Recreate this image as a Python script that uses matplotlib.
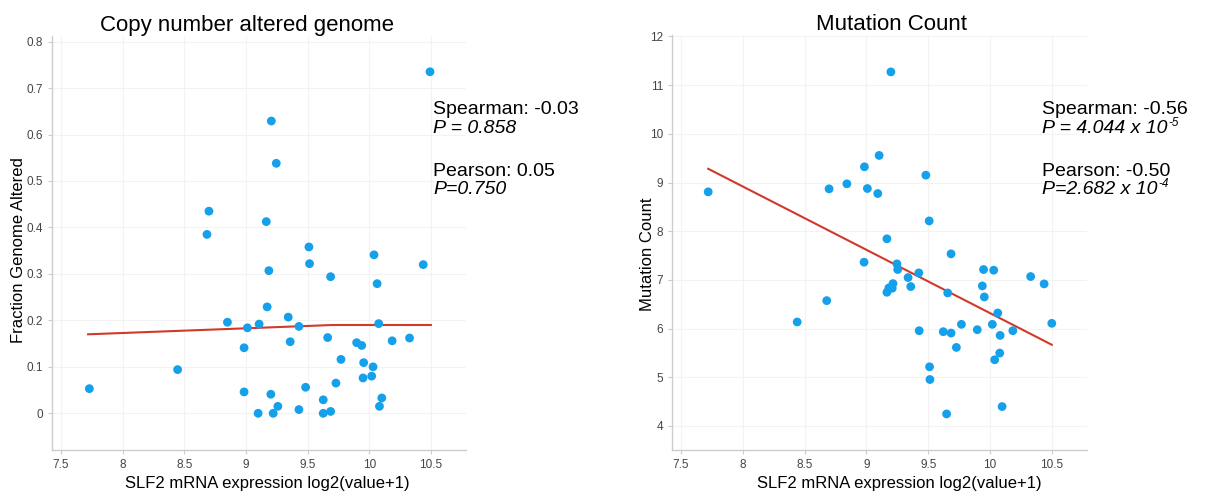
import matplotlib
matplotlib.use("Agg")
import matplotlib.pyplot as plt

# ---------------- data ----------------
cna_x = [7.730, 8.446, 8.684, 8.700, 8.850, 8.985, 9.012, 8.985, 9.107, 9.099,
         9.165, 9.172, 9.186, 9.202, 9.206, 9.221, 9.246, 9.259, 9.343, 9.359,
         9.430, 9.430, 9.484, 9.511, 9.516, 9.627, 9.687, 9.627, 9.663, 9.687,
         9.730, 9.771, 9.898, 9.939, 9.955, 9.950, 10.031, 10.020, 10.039, 10.064,
         10.077, 10.083, 10.102, 10.186, 10.327, 10.438, 10.493]
cna_y = [0.053, 0.094, 0.385, 0.435, 0.196, 0.141, 0.184, 0.046, 0.192, 0.000,
         0.4125, 0.229, 0.307, 0.041, 0.629, 0.000, 0.538, 0.015, 0.207, 0.154,
         0.187, 0.008, 0.056, 0.358, 0.322, 0.000, 0.004, 0.029, 0.163, 0.294,
         0.065, 0.116, 0.152, 0.146, 0.109, 0.076, 0.100, 0.080, 0.341, 0.279,
         0.193, 0.015, 0.033, 0.156, 0.162, 0.320, 0.735]
cna_fit_x = [7.72, 9.70, 10.50]
cna_fit_y = [0.170, 0.190, 0.190]

mut_x = [7.720, 8.440, 8.679, 8.698, 8.842, 8.981, 8.984, 9.008, 9.092, 9.103,
         9.166, 9.166, 9.182, 9.198, 9.209, 9.215, 9.247, 9.253, 9.337, 9.359,
         9.424, 9.427, 9.481, 9.508, 9.511, 9.514, 9.622, 9.649, 9.658, 9.685,
         9.685, 9.728, 9.769, 9.897, 9.938, 9.948, 9.954, 10.019, 10.030, 10.038,
         10.063, 10.079, 10.082, 10.098, 10.185, 10.329, 10.438, 10.500]
mut_y = [8.808, 6.135, 6.574, 8.870, 8.973, 7.364, 9.323, 8.877, 8.774, 9.556,
         7.844, 6.746, 6.835, 11.272, 6.828, 6.924, 7.329, 7.213, 7.048, 6.863,
         7.144, 5.956, 9.151, 8.211, 5.215, 4.954, 5.936, 4.247, 6.732, 7.535,
         5.908, 5.613, 6.087, 5.977, 6.876, 7.213, 6.650, 6.087, 7.199, 5.359,
         6.320, 5.497, 5.860, 4.398, 5.956, 7.069, 6.918, 6.108]
mut_fit_x = [7.72, 10.50]
mut_fit_y = [9.282, 5.668]

x_ticks = [7.5, 8, 8.5, 9, 9.5, 10, 10.5]
x_tick_labels = ["7.5", "8", "8.5", "9", "9.5", "10", "10.5"]
cna_y_ticks = [0, 0.1, 0.2, 0.3, 0.4, 0.5, 0.6, 0.7, 0.8]
cna_y_labels = ["0", "0.1", "0.2", "0.3", "0.4", "0.5", "0.6", "0.7", "0.8"]
mut_y_ticks = [4, 5, 6, 7, 8, 9, 10, 11, 12]
mut_y_labels = ["4", "5", "6", "7", "8", "9", "10", "11", "12"]

titles = ["Copy number altered genome", "Mutation Count"]
y_labels = ["Fraction Genome Altered", "Mutation Count"]
x_label = "SLF2 mRNA expression log2(value+1)"

# (text, superscript, italic)
cna_stats = [("Spearman: -0.03", None, False), ("P = 0.858", None, True),
             ("Pearson: 0.05", None, False), ("P=0.750", None, True)]
mut_stats = [("Spearman: -0.56", None, False), ("P = 4.044 x 10", "-5", True),
             ("Pearson: -0.50", None, False), ("P=2.682 x 10", "-4", True)]

# ---------------- style ----------------
plt.rcParams['font.family'] = ['Liberation Sans', 'DejaVu Sans']
DOT = "#14a0ea"
LINE = "#d0392b"
W, H = 1205, 492
fig = plt.figure(figsize=(W / 100, H / 100), dpi=100)

def px_axes(l, r, t, b):
    return fig.add_axes([l / W, 1 - b / H, (r - l) / W, (b - t) / H])

ax1 = px_axes(52, 466, 36, 450)
ax2 = px_axes(672, 1087, 35, 450)

def style(ax, yt, yl, ylim, title, ylab, title_x, xlab_x, ylab_xy):
    ax.set_xlim(7.427, 10.785)
    ax.set_ylim(*ylim)
    ax.set_xticks(x_ticks)
    ax.set_xticklabels(x_tick_labels)
    ax.set_yticks(yt)
    ax.set_yticklabels(yl)
    for s in ["top", "right"]:
        ax.spines[s].set_visible(False)
    for s in ["left", "bottom"]:
        ax.spines[s].set_color("#cccccc")
        ax.spines[s].set_linewidth(1.0)
    ax.tick_params(axis="both", colors="#cccccc", labelcolor="#444444",
                   labelsize=8.5, length=3, width=0.8)
    ax.grid(True, color="#f3f3f3", linewidth=0.8)
    ax.set_axisbelow(True)
    ax.set_title(title, fontsize=16, pad=2, x=title_x)
    ax.set_ylabel(ylab, fontsize=12, va="center")
    ax.yaxis.set_label_coords(*ylab_xy)
    ax.set_xlabel(x_label, fontsize=12, va="center")
    ax.xaxis.set_label_coords(xlab_x, -0.08)

style(ax1, cna_y_ticks, cna_y_labels, (-0.079, 0.812), titles[0], y_labels[0],
      0.472, 0.519, (-0.082, 0.483))
style(ax2, mut_y_ticks, mut_y_labels, (3.506, 12.03), titles[1], y_labels[1],
      0.528, 0.547, (-0.058, 0.472))

ax1.plot(cna_fit_x, cna_fit_y, color=LINE, lw=1.5, zorder=2)
ax1.scatter(cna_x, cna_y, s=40, color=DOT, edgecolors="none", zorder=3)
ax2.plot(mut_fit_x, mut_fit_y, color=LINE, lw=1.5, zorder=2)
ax2.scatter(mut_x, mut_y, s=40, color=DOT, edgecolors="none", zorder=3)

# annotations (figure pixel positions)
renderer = fig.canvas.get_renderer()
line_y = [110, 128, 171, 189]

def stats_block(x0, stats):
    for (txt, sup, italic), y in zip(stats, line_y):
        t = fig.text(x0 / W, 1 - y / H, txt, fontsize=14, va="center", ha="left",
                     style="italic" if italic else "normal")
        if sup:
            bb = t.get_window_extent(renderer)
            fig.text((bb.x1 + 0.5) / W, 1 - (y - 5) / H, sup, fontsize=8.5,
                     va="center", ha="left", style="italic")

stats_block(433, cna_stats)
stats_block(1042, mut_stats)

fig.savefig("out.png", dpi=100)
